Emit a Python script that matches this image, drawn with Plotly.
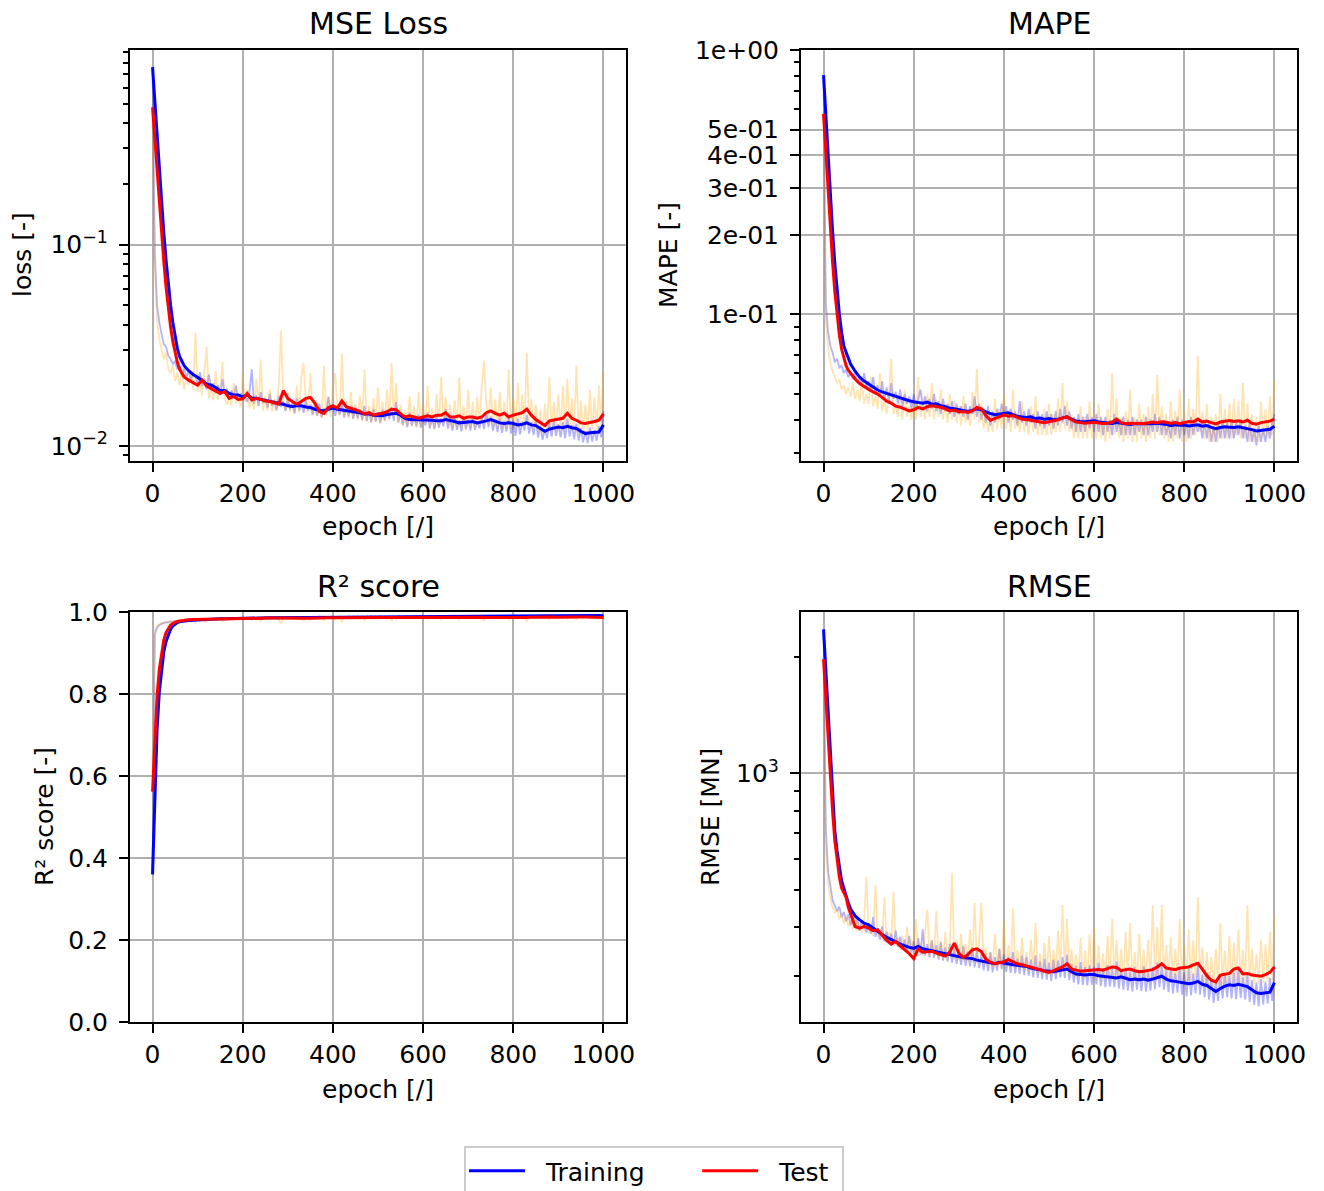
import plotly.graph_objects as go

# ---------------------------------------------------------------------------
# Training history: raw per-epoch metrics (every 5th epoch) and smoothed curves
# ---------------------------------------------------------------------------
epochs_raw = list(range(0, 1001, 5))
epochs_smooth = list(range(0, 60, 5)) + list(range(60, 1001, 10))

mse_train_raw = [
    0.760, 0.090, 0.050, 0.041, 0.036, 0.032, 0.031, 0.028, 0.027, 0.0255,
    0.0262, 0.0240, 0.0251, 0.0228, 0.0242, 0.0219, 0.0236, 0.0212, 0.0229, 0.0221,
    0.0205, 0.0232, 0.0198, 0.0215, 0.0190, 0.0226, 0.0194, 0.0205, 0.0182, 0.0200,
    0.0178, 0.0215, 0.0181, 0.0192, 0.0170, 0.0188, 0.0176, 0.0199, 0.0168, 0.0182,
    0.0172, 0.0180, 0.0165, 0.0186, 0.0240, 0.0162, 0.0178, 0.0158, 0.0185, 0.0163,
    0.0172, 0.0155, 0.0181, 0.0158, 0.0168, 0.0150, 0.0177, 0.0156, 0.0166, 0.0149,
    0.0170, 0.0152, 0.0163, 0.0145, 0.0172, 0.0150, 0.0160, 0.0146, 0.0169, 0.0149,
    0.0160, 0.0142, 0.0158, 0.0141, 0.0162, 0.0139, 0.0154, 0.0145, 0.0175, 0.0150,
    0.0161, 0.0141, 0.0157, 0.0143, 0.0163, 0.0138, 0.0154, 0.0140, 0.0158, 0.0136,
    0.0155, 0.0137, 0.0152, 0.0134, 0.0158, 0.0133, 0.0149, 0.0131, 0.0152, 0.0132,
    0.0147, 0.0130, 0.0151, 0.0134, 0.0149, 0.0136, 0.0156, 0.0133, 0.0165, 0.0131,
    0.0145, 0.0127, 0.0141, 0.0124, 0.0146, 0.0126, 0.0140, 0.0125, 0.0143, 0.0123,
    0.0139, 0.0126, 0.0146, 0.0122, 0.0138, 0.0121, 0.0142, 0.0123, 0.0137, 0.0125,
    0.0152, 0.0122, 0.0136, 0.0119, 0.0139, 0.0120, 0.0134, 0.0118, 0.0140, 0.0121,
    0.0135, 0.0119, 0.0141, 0.0120, 0.0133, 0.0122, 0.0139, 0.0121, 0.0147, 0.0124,
    0.0140, 0.0119, 0.0136, 0.0117, 0.0138, 0.0116, 0.0133, 0.0118, 0.0140, 0.0115,
    0.0134, 0.0112, 0.0137, 0.0114, 0.0132, 0.0119, 0.0143, 0.0115, 0.0131, 0.0113,
    0.0135, 0.0110, 0.0126, 0.0107, 0.0121, 0.0109, 0.0130, 0.0111, 0.0133, 0.0112,
    0.0128, 0.0110, 0.0131, 0.0109, 0.0136, 0.0111, 0.0127, 0.0108, 0.0129, 0.0106,
    0.0122, 0.0104, 0.0119, 0.0103, 0.0123, 0.0105, 0.0120, 0.0106, 0.0125, 0.0110,
    0.0148,
]
mse_test_raw = [
    0.480, 0.075, 0.042, 0.034, 0.030, 0.027, 0.029, 0.024, 0.023, 0.025,
    0.021, 0.023, 0.020, 0.024, 0.019, 0.022, 0.020, 0.023, 0.019, 0.0365,
    0.0185, 0.0210, 0.0178, 0.0240, 0.0310, 0.0172, 0.0196, 0.0168, 0.0235, 0.0170,
    0.0188, 0.0262, 0.0171, 0.0160, 0.0182, 0.0158, 0.0205, 0.0162, 0.0176, 0.0155,
    0.0230, 0.0165, 0.0190, 0.0154, 0.0172, 0.0152, 0.0215, 0.0157, 0.0268, 0.0150,
    0.0176, 0.0149, 0.0192, 0.0148, 0.0170, 0.0151, 0.0205, 0.0374, 0.0162, 0.0150,
    0.0185, 0.0147, 0.0168, 0.0145, 0.0198, 0.0146, 0.0220, 0.0258, 0.0160, 0.0148,
    0.0230, 0.0143, 0.0165, 0.0140, 0.0158, 0.0137, 0.0250, 0.0141, 0.0175, 0.0139,
    0.0195, 0.0230, 0.0150, 0.0142, 0.0288, 0.0140, 0.0168, 0.0137, 0.0185, 0.0136,
    0.0162, 0.0134, 0.0178, 0.0133, 0.0240, 0.0132, 0.0158, 0.0130, 0.0172, 0.0131,
    0.0195, 0.0129, 0.0166, 0.0132, 0.0190, 0.0134, 0.0257, 0.0137, 0.0205, 0.0130,
    0.0160, 0.0126, 0.0150, 0.0124, 0.0176, 0.0125, 0.0158, 0.0123, 0.0185, 0.0124,
    0.0162, 0.0127, 0.0198, 0.0123, 0.0155, 0.0122, 0.0180, 0.0126, 0.0220, 0.0128,
    0.0175, 0.0124, 0.0160, 0.0121, 0.0168, 0.0123, 0.0218, 0.0122, 0.0158, 0.0120,
    0.0190, 0.0123, 0.0165, 0.0122, 0.0175, 0.0124, 0.0200, 0.0265, 0.0160, 0.0128,
    0.0195, 0.0126, 0.0170, 0.0122, 0.0185, 0.0121, 0.0165, 0.0123, 0.0240, 0.0122,
    0.0172, 0.0120, 0.0205, 0.0124, 0.0180, 0.0127, 0.0290, 0.0130, 0.0170, 0.0121,
    0.0160, 0.0118, 0.0150, 0.0115, 0.0162, 0.0117, 0.0220, 0.0119, 0.0165, 0.0118,
    0.0180, 0.0121, 0.0198, 0.0123, 0.0215, 0.0122, 0.0172, 0.0118, 0.0250, 0.0116,
    0.0168, 0.0115, 0.0160, 0.0117, 0.0190, 0.0118, 0.0175, 0.0120, 0.0200, 0.0123,
    0.0234,
]
mse_train_smooth = [
    0.760, 0.510, 0.343, 0.233, 0.161, 0.114, 0.0835, 0.0633, 0.0499, 0.0410,
    0.0350, 0.0305, 0.0278, 0.0250, 0.0236, 0.0226, 0.0219, 0.0210, 0.0203, 0.0200,
    0.0195, 0.0188, 0.0188, 0.0182, 0.0179, 0.0179, 0.0175, 0.0179, 0.0173, 0.0172,
    0.0170, 0.0169, 0.0167, 0.0164, 0.0163, 0.0161, 0.0158, 0.0157, 0.0158, 0.0158,
    0.0156, 0.0155, 0.0152, 0.0151, 0.0149, 0.0152, 0.0154, 0.0152, 0.0151, 0.0149,
    0.0148, 0.0148, 0.0146, 0.0144, 0.0144, 0.0142, 0.0142, 0.0141, 0.0143, 0.0144,
    0.0145, 0.0142, 0.0137, 0.0135, 0.0135, 0.0134, 0.0134, 0.0135, 0.0134, 0.0133,
    0.0133, 0.0135, 0.0134, 0.0132, 0.0130, 0.0131, 0.0131, 0.0132, 0.0130, 0.0131,
    0.0133, 0.0135, 0.0132, 0.0130, 0.0129, 0.0130, 0.0129, 0.0127, 0.0128, 0.0130,
    0.0127, 0.0126, 0.0122, 0.0118, 0.0121, 0.0123, 0.0124, 0.0123, 0.0125, 0.0123,
    0.0122, 0.0118, 0.0115, 0.0116, 0.0116, 0.0117, 0.0127,
]
mse_test_smooth = [
    0.480, 0.335, 0.229, 0.160, 0.113, 0.0820, 0.0615, 0.0480, 0.0390, 0.0330,
    0.0288, 0.0260, 0.0240, 0.0220, 0.0212, 0.0206, 0.0200, 0.0212, 0.0198, 0.0192,
    0.0186, 0.0182, 0.0186, 0.0172, 0.0176, 0.0170, 0.0171, 0.0182, 0.0169, 0.0172,
    0.0170, 0.0167, 0.0166, 0.0164, 0.0161, 0.0188, 0.0172, 0.0166, 0.0161, 0.0166,
    0.0172, 0.0174, 0.0163, 0.0148, 0.0145, 0.0155, 0.0158, 0.0154, 0.0167, 0.0156,
    0.0154, 0.0151, 0.0148, 0.0144, 0.0146, 0.0142, 0.0144, 0.0145, 0.0148, 0.0152,
    0.0151, 0.0144, 0.0139, 0.0141, 0.0139, 0.0137, 0.0139, 0.0141, 0.0139, 0.0142,
    0.0142, 0.0146, 0.0139, 0.0139, 0.0141, 0.0137, 0.0139, 0.0139, 0.0137, 0.0139,
    0.0146, 0.0149, 0.0145, 0.0142, 0.0145, 0.0139, 0.0142, 0.0144, 0.0146, 0.0152,
    0.0142, 0.0135, 0.0130, 0.0126, 0.0133, 0.0134, 0.0135, 0.0137, 0.0145, 0.0137,
    0.0134, 0.0130, 0.0129, 0.0130, 0.0132, 0.0134, 0.0144,
]

mape_train_raw = [
    0.804, 0.110, 0.086, 0.076, 0.072, 0.066, 0.068, 0.063, 0.064, 0.060,
    0.062, 0.058, 0.060, 0.057, 0.061, 0.055, 0.058, 0.054, 0.060, 0.053,
    0.056, 0.051, 0.058, 0.050, 0.054, 0.049, 0.056, 0.048, 0.053, 0.047,
    0.055, 0.048, 0.051, 0.046, 0.052, 0.045, 0.050, 0.046, 0.049, 0.044,
    0.050, 0.044, 0.048, 0.052, 0.045, 0.049, 0.043, 0.048, 0.044, 0.050,
    0.043, 0.047, 0.042, 0.048, 0.043, 0.046, 0.042, 0.047, 0.041, 0.046,
    0.042, 0.045, 0.041, 0.046, 0.040, 0.045, 0.042, 0.049, 0.041, 0.046,
    0.040, 0.044, 0.039, 0.045, 0.038, 0.043, 0.039, 0.044, 0.040, 0.046,
    0.041, 0.045, 0.039, 0.044, 0.040, 0.043, 0.038, 0.047, 0.039, 0.043,
    0.038, 0.044, 0.039, 0.042, 0.037, 0.043, 0.038, 0.042, 0.037, 0.043,
    0.038, 0.042, 0.037, 0.043, 0.038, 0.044, 0.039, 0.045, 0.038, 0.043,
    0.037, 0.041, 0.036, 0.042, 0.036, 0.041, 0.036, 0.042, 0.037, 0.041,
    0.036, 0.042, 0.036, 0.041, 0.035, 0.041, 0.036, 0.040, 0.035, 0.042,
    0.036, 0.040, 0.035, 0.041, 0.035, 0.040, 0.035, 0.041, 0.035, 0.040,
    0.036, 0.040, 0.035, 0.041, 0.035, 0.040, 0.036, 0.042, 0.036, 0.041,
    0.035, 0.040, 0.035, 0.039, 0.034, 0.040, 0.035, 0.041, 0.034, 0.040,
    0.035, 0.039, 0.034, 0.041, 0.035, 0.040, 0.036, 0.039, 0.034, 0.040,
    0.034, 0.039, 0.033, 0.038, 0.033, 0.039, 0.034, 0.040, 0.034, 0.039,
    0.034, 0.040, 0.034, 0.039, 0.035, 0.040, 0.034, 0.038, 0.033, 0.039,
    0.033, 0.037, 0.032, 0.038, 0.033, 0.037, 0.033, 0.038, 0.034, 0.039,
    0.042,
]
mape_test_raw = [
    0.573, 0.095, 0.075, 0.066, 0.061, 0.058, 0.055, 0.057, 0.052, 0.054,
    0.050, 0.053, 0.049, 0.055, 0.048, 0.052, 0.047, 0.056, 0.046, 0.050,
    0.046, 0.058, 0.045, 0.049, 0.044, 0.060, 0.043, 0.047, 0.042, 0.050,
    0.068, 0.042, 0.046, 0.041, 0.048, 0.040, 0.052, 0.041, 0.045, 0.040,
    0.047, 0.040, 0.058, 0.041, 0.046, 0.040, 0.050, 0.041, 0.055, 0.040,
    0.048, 0.041, 0.052, 0.040, 0.046, 0.039, 0.050, 0.040, 0.047, 0.039,
    0.045, 0.038, 0.049, 0.039, 0.044, 0.038, 0.051, 0.040, 0.062, 0.039,
    0.046, 0.037, 0.043, 0.036, 0.041, 0.036, 0.048, 0.037, 0.044, 0.037,
    0.050, 0.037, 0.043, 0.036, 0.052, 0.037, 0.042, 0.036, 0.047, 0.036,
    0.041, 0.035, 0.045, 0.036, 0.049, 0.035, 0.041, 0.035, 0.044, 0.035,
    0.046, 0.035, 0.042, 0.036, 0.048, 0.036, 0.055, 0.037, 0.047, 0.036,
    0.042, 0.034, 0.040, 0.034, 0.045, 0.034, 0.041, 0.034, 0.047, 0.034,
    0.042, 0.034, 0.046, 0.034, 0.040, 0.033, 0.044, 0.034, 0.060, 0.035,
    0.048, 0.034, 0.041, 0.033, 0.043, 0.034, 0.052, 0.033, 0.041, 0.033,
    0.046, 0.034, 0.042, 0.033, 0.045, 0.034, 0.050, 0.034, 0.059, 0.035,
    0.045, 0.034, 0.042, 0.033, 0.047, 0.033, 0.043, 0.034, 0.052, 0.033,
    0.043, 0.033, 0.048, 0.034, 0.044, 0.035, 0.070, 0.036, 0.043, 0.034,
    0.046, 0.033, 0.041, 0.033, 0.042, 0.033, 0.050, 0.034, 0.044, 0.034,
    0.046, 0.034, 0.048, 0.035, 0.047, 0.034, 0.055, 0.034, 0.046, 0.033,
    0.042, 0.033, 0.041, 0.033, 0.047, 0.034, 0.044, 0.034, 0.049, 0.035,
    0.056,
]
mape_train_smooth = [
    0.804, 0.563, 0.395, 0.282, 0.207, 0.156, 0.123, 0.1007, 0.0857, 0.0760,
    0.0720, 0.0680, 0.0650, 0.0610, 0.0580, 0.0560, 0.0545, 0.0530, 0.0518, 0.0510,
    0.0503, 0.0497, 0.0490, 0.0483, 0.0477, 0.0472, 0.0468, 0.0465, 0.0462, 0.0466,
    0.0458, 0.0460, 0.0452, 0.0448, 0.0442, 0.0440, 0.0436, 0.0433, 0.0430, 0.0434,
    0.0440, 0.0436, 0.0428, 0.0422, 0.0418, 0.0420, 0.0424, 0.0425, 0.0418, 0.0412,
    0.0410, 0.0408, 0.0410, 0.0404, 0.0406, 0.0402, 0.0404, 0.0400, 0.0402, 0.0405,
    0.0410, 0.0402, 0.0396, 0.0394, 0.0393, 0.0395, 0.0396, 0.0392, 0.0390, 0.0389,
    0.0387, 0.0390, 0.0388, 0.0385, 0.0384, 0.0386, 0.0386, 0.0385, 0.0384, 0.0386,
    0.0388, 0.0387, 0.0384, 0.0380, 0.0383, 0.0381, 0.0382, 0.0379, 0.0381, 0.0383,
    0.0378, 0.0380, 0.0374, 0.0370, 0.0374, 0.0376, 0.0375, 0.0374, 0.0376, 0.0373,
    0.0372, 0.0367, 0.0363, 0.0364, 0.0366, 0.0368, 0.0378,
]
mape_test_smooth = [
    0.573, 0.410, 0.290, 0.210, 0.158, 0.122, 0.099, 0.084, 0.074, 0.068,
    0.0640, 0.0615, 0.0598, 0.0570, 0.0548, 0.0533, 0.0521, 0.0510, 0.0500, 0.0486,
    0.0470, 0.0462, 0.0450, 0.0446, 0.0440, 0.0432, 0.0436, 0.0445, 0.0440, 0.0448,
    0.0452, 0.0450, 0.0446, 0.0440, 0.0432, 0.0435, 0.0428, 0.0430, 0.0426, 0.0432,
    0.0445, 0.0440, 0.0415, 0.0398, 0.0405, 0.0410, 0.0417, 0.0412, 0.0415, 0.0408,
    0.0402, 0.0401, 0.0398, 0.0394, 0.0392, 0.0390, 0.0393, 0.0396, 0.0400, 0.0406,
    0.0410, 0.0400, 0.0392, 0.0390, 0.0388, 0.0390, 0.0391, 0.0389, 0.0387, 0.0388,
    0.0392, 0.0402, 0.0390, 0.0386, 0.0388, 0.0387, 0.0388, 0.0386, 0.0389, 0.0392,
    0.0390, 0.0393, 0.0391, 0.0388, 0.0390, 0.0386, 0.0390, 0.0394, 0.0392, 0.0402,
    0.0392, 0.0395, 0.0390, 0.0386, 0.0392, 0.0395, 0.0397, 0.0394, 0.0396, 0.0392,
    0.0398, 0.0388, 0.0385, 0.0390, 0.0392, 0.0395, 0.0402,
]

r2_train_raw = [
    0.360, 0.945, 0.962, 0.968, 0.971, 0.973, 0.975, 0.974, 0.977, 0.976,
    0.978, 0.977, 0.979, 0.978, 0.980, 0.979, 0.981, 0.979, 0.981, 0.980,
    0.981, 0.980, 0.982, 0.980, 0.983, 0.981, 0.983, 0.982, 0.984, 0.982,
    0.984, 0.982, 0.985, 0.983, 0.985, 0.983, 0.986, 0.984, 0.985, 0.984,
    0.986, 0.984, 0.986, 0.985, 0.982, 0.986, 0.985, 0.987, 0.985, 0.986,
    0.987, 0.985, 0.987, 0.985, 0.987, 0.986, 0.987, 0.986, 0.988, 0.986,
    0.987, 0.986, 0.988, 0.986, 0.987, 0.986, 0.988, 0.987, 0.988, 0.986,
    0.988, 0.987, 0.988, 0.987, 0.989, 0.987, 0.988, 0.987, 0.986, 0.988,
    0.987, 0.988, 0.987, 0.989, 0.987, 0.988, 0.987, 0.989, 0.988, 0.989,
    0.988, 0.989, 0.988, 0.989, 0.987, 0.989, 0.988, 0.990, 0.988, 0.989,
    0.988, 0.990, 0.988, 0.989, 0.988, 0.989, 0.988, 0.989, 0.987, 0.990,
    0.988, 0.990, 0.989, 0.990, 0.988, 0.990, 0.989, 0.990, 0.989, 0.990,
    0.989, 0.990, 0.988, 0.990, 0.989, 0.990, 0.989, 0.990, 0.989, 0.990,
    0.988, 0.990, 0.989, 0.991, 0.989, 0.990, 0.989, 0.991, 0.989, 0.990,
    0.989, 0.991, 0.989, 0.990, 0.989, 0.991, 0.989, 0.990, 0.988, 0.990,
    0.989, 0.991, 0.989, 0.991, 0.989, 0.991, 0.990, 0.991, 0.989, 0.991,
    0.990, 0.991, 0.989, 0.991, 0.990, 0.991, 0.989, 0.991, 0.990, 0.991,
    0.990, 0.992, 0.990, 0.992, 0.991, 0.992, 0.990, 0.991, 0.990, 0.991,
    0.990, 0.991, 0.990, 0.992, 0.989, 0.991, 0.990, 0.992, 0.990, 0.992,
    0.991, 0.992, 0.991, 0.992, 0.990, 0.992, 0.991, 0.992, 0.990, 0.991,
    0.989,
]
r2_test_raw = [
    0.562, 0.955, 0.966, 0.970, 0.973, 0.975, 0.974, 0.977, 0.976, 0.978,
    0.977, 0.979, 0.978, 0.980, 0.979, 0.981, 0.980, 0.981, 0.980, 0.974,
    0.982, 0.980, 0.982, 0.979, 0.976, 0.983, 0.981, 0.984, 0.979, 0.983,
    0.982, 0.977, 0.984, 0.985, 0.982, 0.985, 0.981, 0.985, 0.983, 0.986,
    0.980, 0.985, 0.983, 0.986, 0.984, 0.986, 0.981, 0.986, 0.978, 0.987,
    0.984, 0.987, 0.983, 0.987, 0.985, 0.987, 0.982, 0.972, 0.986, 0.987,
    0.984, 0.988, 0.985, 0.988, 0.983, 0.988, 0.982, 0.979, 0.986, 0.988,
    0.981, 0.988, 0.986, 0.988, 0.986, 0.989, 0.980, 0.988, 0.985, 0.989,
    0.983, 0.981, 0.987, 0.988, 0.976, 0.989, 0.986, 0.989, 0.984, 0.989,
    0.986, 0.989, 0.985, 0.989, 0.981, 0.989, 0.987, 0.990, 0.985, 0.989,
    0.984, 0.990, 0.986, 0.989, 0.984, 0.989, 0.979, 0.989, 0.983, 0.990,
    0.986, 0.990, 0.987, 0.990, 0.985, 0.990, 0.987, 0.990, 0.984, 0.990,
    0.986, 0.990, 0.984, 0.990, 0.987, 0.990, 0.985, 0.990, 0.982, 0.990,
    0.985, 0.990, 0.986, 0.990, 0.986, 0.990, 0.982, 0.990, 0.987, 0.991,
    0.985, 0.990, 0.986, 0.990, 0.986, 0.990, 0.984, 0.979, 0.987, 0.990,
    0.985, 0.990, 0.986, 0.991, 0.985, 0.991, 0.987, 0.990, 0.982, 0.991,
    0.986, 0.991, 0.984, 0.991, 0.985, 0.990, 0.977, 0.990, 0.986, 0.991,
    0.987, 0.991, 0.988, 0.991, 0.987, 0.991, 0.983, 0.991, 0.987, 0.991,
    0.986, 0.991, 0.985, 0.991, 0.984, 0.991, 0.987, 0.991, 0.981, 0.991,
    0.987, 0.991, 0.987, 0.991, 0.985, 0.991, 0.986, 0.991, 0.984, 0.990,
    0.982,
]
r2_train_smooth = [
    0.360, 0.570, 0.712, 0.805, 0.862, 0.903, 0.928, 0.946, 0.958, 0.966,
    0.971, 0.974, 0.976, 0.978, 0.979, 0.980, 0.9808, 0.9815, 0.9820, 0.9825,
    0.9830, 0.9834, 0.9836, 0.9840, 0.9843, 0.9845, 0.9848, 0.9846, 0.9850, 0.9852,
    0.9854, 0.9855, 0.9857, 0.9859, 0.9860, 0.9862, 0.9864, 0.9865, 0.9865, 0.9866,
    0.9868, 0.9869, 0.9871, 0.9872, 0.9874, 0.9872, 0.9871, 0.9873, 0.9874, 0.9876,
    0.9877, 0.9877, 0.9879, 0.9880, 0.9881, 0.9882, 0.9883, 0.9884, 0.9883, 0.9882,
    0.9881, 0.9884, 0.9887, 0.9888, 0.9889, 0.9889, 0.9890, 0.9890, 0.9891, 0.9892,
    0.9893, 0.9892, 0.9893, 0.9895, 0.9896, 0.9896, 0.9897, 0.9897, 0.9898, 0.9898,
    0.9897, 0.9896, 0.9899, 0.9901, 0.9902, 0.9902, 0.9903, 0.9905, 0.9905, 0.9903,
    0.9906, 0.9907, 0.9911, 0.9914, 0.9911, 0.9910, 0.9909, 0.9910, 0.9909, 0.9910,
    0.9911, 0.9914, 0.9917, 0.9917, 0.9916, 0.9915, 0.9908,
]
r2_test_smooth = [
    0.562, 0.700, 0.795, 0.860, 0.903, 0.932, 0.950, 0.961, 0.968, 0.972,
    0.975, 0.977, 0.978, 0.980, 0.981, 0.9815, 0.9818, 0.9812, 0.9820, 0.9826,
    0.9831, 0.9834, 0.9830, 0.9842, 0.9840, 0.9844, 0.9843, 0.9838, 0.9848, 0.9846,
    0.9848, 0.9850, 0.9851, 0.9852, 0.9854, 0.9838, 0.9850, 0.9854, 0.9857, 0.9854,
    0.9850, 0.9849, 0.9856, 0.9866, 0.9868, 0.9862, 0.9860, 0.9862, 0.9854, 0.9861,
    0.9862, 0.9864, 0.9866, 0.9869, 0.9868, 0.9870, 0.9869, 0.9868, 0.9866, 0.9863,
    0.9864, 0.9869, 0.9872, 0.9871, 0.9872, 0.9874, 0.9872, 0.9871, 0.9872, 0.9870,
    0.9870, 0.9867, 0.9872, 0.9872, 0.9871, 0.9874, 0.9872, 0.9872, 0.9874, 0.9872,
    0.9867, 0.9865, 0.9868, 0.9870, 0.9868, 0.9872, 0.9870, 0.9869, 0.9867, 0.9863,
    0.9870, 0.9875, 0.9879, 0.9882, 0.9877, 0.9876, 0.9875, 0.9873, 0.9867, 0.9873,
    0.9875, 0.9878, 0.9879, 0.9878, 0.9877, 0.9875, 0.9868,
]

rmse_train_raw = [
    2355, 720, 560, 505, 470, 455, 440, 452, 425, 438,
    415, 432, 405, 425, 398, 420, 392, 415, 400, 388,
    410, 385, 425, 378, 398, 372, 402, 368, 390, 365,
    385, 360, 392, 356, 378, 350, 372, 348, 380, 345,
    368, 342, 375, 340, 395, 338, 362, 335, 370, 334,
    360, 330, 366, 328, 355, 326, 362, 324, 352, 322,
    350, 320, 358, 318, 346, 317, 355, 315, 348, 314,
    342, 310, 338, 308, 345, 306, 335, 309, 352, 312,
    340, 307, 336, 305, 345, 304, 332, 303, 338, 301,
    335, 300, 330, 297, 338, 296, 326, 294, 332, 293,
    324, 291, 330, 294, 328, 297, 335, 296, 340, 292,
    322, 288, 318, 285, 325, 284, 316, 283, 320, 284,
    316, 285, 324, 282, 314, 280, 320, 281, 312, 280,
    326, 278, 312, 276, 315, 275, 308, 273, 316, 276,
    308, 274, 318, 273, 306, 275, 316, 277, 325, 280,
    318, 276, 310, 272, 314, 270, 305, 271, 315, 268,
    306, 265, 312, 267, 304, 270, 318, 268, 302, 264,
    305, 260, 295, 255, 290, 258, 302, 262, 305, 264,
    300, 262, 306, 261, 310, 263, 298, 260, 302, 257,
    292, 252, 288, 250, 294, 253, 289, 254, 296, 258,
    318,
]
rmse_test_raw = [
    1971, 640, 520, 475, 450, 435, 445, 420, 432, 410,
    425, 402, 418, 395, 430, 390, 412, 388, 420, 541,
    385, 400, 380, 515, 378, 395, 370, 480, 365, 388,
    362, 495, 358, 375, 352, 380, 348, 400, 345, 372,
    342, 420, 340, 365, 338, 380, 444, 336, 372, 335,
    440, 333, 368, 330, 390, 329, 360, 553, 330, 372,
    328, 385, 326, 362, 325, 395, 324, 462, 326, 372,
    463, 322, 355, 318, 345, 316, 385, 315, 352, 313,
    420, 314, 360, 313, 448, 312, 350, 310, 375, 309,
    345, 307, 372, 306, 410, 305, 342, 303, 365, 302,
    380, 301, 350, 303, 392, 305, 457, 308, 420, 302,
    352, 298, 340, 296, 375, 295, 348, 294, 385, 295,
    400, 296, 360, 294, 342, 293, 380, 295, 420, 297,
    370, 294, 352, 292, 390, 293, 410, 291, 345, 290,
    385, 292, 350, 291, 372, 293, 456, 294, 400, 296,
    457, 295, 360, 292, 378, 291, 352, 293, 420, 292,
    360, 290, 395, 292, 370, 296, 479, 298, 355, 290,
    345, 284, 335, 280, 352, 283, 410, 285, 348, 286,
    380, 288, 365, 290, 395, 289, 350, 288, 456, 287,
    352, 285, 340, 286, 372, 287, 362, 289, 390, 291,
    431,
]
rmse_train_smooth = [
    2355, 1850, 1450, 1120, 870, 710, 630, 570, 528, 505,
    480, 462, 446, 428, 418, 410, 406, 398, 390, 383,
    377, 371, 367, 362, 358, 355, 353, 357, 352, 350,
    347, 346, 344, 342, 340, 338, 336, 334, 333, 332,
    329, 327, 325, 324, 322, 325, 323, 322, 320, 319,
    318, 317, 314, 312, 311, 309, 308, 307, 309, 311,
    312, 307, 303, 302, 301, 302, 302, 300, 299, 298,
    297, 296, 298, 295, 293, 294, 293, 294, 292, 294,
    297, 299, 294, 291, 290, 289, 288, 286, 287, 290,
    285, 283, 278, 273, 278, 282, 284, 283, 285, 283,
    281, 276, 271, 270, 271, 272, 288,
]
rmse_test_smooth = [
    1971, 1560, 1230, 980, 800, 670, 590, 540, 505, 490,
    478, 450, 432, 402, 398, 402, 398, 392, 394, 382,
    370, 362, 368, 358, 350, 342, 332, 352, 345, 346,
    347, 343, 340, 337, 345, 364, 343, 334, 340, 350,
    352, 346, 331, 325, 322, 324, 326, 330, 326, 322,
    320, 318, 316, 314, 311, 308, 306, 309, 312, 316,
    322, 312, 310, 308, 309, 310, 310, 311, 310, 313,
    316, 315, 309, 311, 312, 309, 307, 308, 309, 311,
    316, 322, 314, 312, 311, 314, 315, 316, 320, 323,
    312, 300, 292, 289, 301, 303, 304, 312, 314, 303,
    304, 301, 300, 299, 302, 306, 316,
]

for name, arr, ref in [
    ("mse_train_raw", mse_train_raw, epochs_raw), ("mse_test_raw", mse_test_raw, epochs_raw),
    ("mse_train_smooth", mse_train_smooth, epochs_smooth), ("mse_test_smooth", mse_test_smooth, epochs_smooth),
    ("mape_train_raw", mape_train_raw, epochs_raw), ("mape_test_raw", mape_test_raw, epochs_raw),
    ("mape_train_smooth", mape_train_smooth, epochs_smooth), ("mape_test_smooth", mape_test_smooth, epochs_smooth),
    ("r2_train_raw", r2_train_raw, epochs_raw), ("r2_test_raw", r2_test_raw, epochs_raw),
    ("r2_train_smooth", r2_train_smooth, epochs_smooth), ("r2_test_smooth", r2_test_smooth, epochs_smooth),
    ("rmse_train_raw", rmse_train_raw, epochs_raw), ("rmse_test_raw", rmse_test_raw, epochs_raw),
    ("rmse_train_smooth", rmse_train_smooth, epochs_smooth), ("rmse_test_smooth", rmse_test_smooth, epochs_smooth),
]:
    assert len(arr) == len(ref), (name, len(arr), len(ref))

# ---------------------------------------------------------------------------
# Figure
# ---------------------------------------------------------------------------
W, H = 1324, 1191
FONT = "DejaVu Sans"
TRAIN_RAW = "rgba(0,0,255,0.3)"
TEST_RAW = "rgba(255,165,0,0.3)"
NBSP = "\u00a0"

panels = [
    # (x axis, y axis, train_raw, test_raw, train_smooth, test_smooth)
    ("x", "y", mse_train_raw, mse_test_raw, mse_train_smooth, mse_test_smooth),
    ("x2", "y2", mape_train_raw, mape_test_raw, mape_train_smooth, mape_test_smooth),
    ("x3", "y3", r2_train_raw, r2_test_raw, r2_train_smooth, r2_test_smooth),
    ("x4", "y4", rmse_train_raw, rmse_test_raw, rmse_train_smooth, rmse_test_smooth),
]

fig = go.Figure()
for i, (xa, ya, tr_raw, te_raw, tr_sm, te_sm) in enumerate(panels):
    fig.add_trace(go.Scatter(x=epochs_raw, y=tr_raw, xaxis=xa, yaxis=ya, mode="lines",
                             line=dict(color=TRAIN_RAW, width=1.8), showlegend=False, hoverinfo="skip"))
    fig.add_trace(go.Scatter(x=epochs_raw, y=te_raw, xaxis=xa, yaxis=ya, mode="lines",
                             line=dict(color=TEST_RAW, width=1.8), showlegend=False, hoverinfo="skip"))
    fig.add_trace(go.Scatter(x=epochs_smooth, y=tr_sm, xaxis=xa, yaxis=ya, mode="lines",
                             line=dict(color="blue", width=3),
                             name=NBSP * 2 + "Training" + NBSP * 6,
                             showlegend=(i == 0), legendgroup="train"))
    fig.add_trace(go.Scatter(x=epochs_smooth, y=te_sm, xaxis=xa, yaxis=ya, mode="lines",
                             line=dict(color="red", width=3), name=NBSP * 2 + "Test" + NBSP,
                             showlegend=(i == 0), legendgroup="test"))

# panel placement in pixels (left, right, top, bottom)
boxes = {
    1: (130, 626, 50, 461),
    2: (801, 1297, 50, 461),
    3: (130, 626, 612, 1022),
    4: (801, 1297, 612, 1022),
}

common_axis = dict(
    showline=True, linewidth=2, linecolor="black", mirror=True,
    ticks="outside", ticklen=9, tickwidth=2, tickcolor="black",
    showgrid=True, gridcolor="#b0b0b0", gridwidth=2, zeroline=False,
    automargin=False,
    tickfont=dict(family=FONT, size=25, color="black"),
)
minor_common = dict(ticks="outside", ticklen=5, tickwidth=1.5, tickcolor="black", showgrid=False)

layout_axes = {}
for k, (l, r, t, b) in boxes.items():
    sx = "" if k == 1 else str(k)
    layout_axes["xaxis" + sx] = dict(
        common_axis, domain=[l / W, r / W], anchor="y" + sx,
        range=[-50, 1050], tickmode="array", tickvals=[0, 200, 400, 600, 800, 1000],
        ticktext=["0", "200", "400", "600", "800", "1000"],
    )
    layout_axes["yaxis" + sx] = dict(common_axis, domain=[1 - b / H, 1 - t / H], anchor="x" + sx,
                                     ticklabelstandoff=6)

# MSE loss (log)
layout_axes["yaxis"].update(
    type="log", range=[-2.0755, -0.0338], tickmode="array",
    tickvals=[0.01, 0.1], ticktext=["10<sup>−2</sup>", "10<sup>−1</sup>"],
    minor=dict(minor_common, tickmode="array",
               tickvals=[0.009, 0.02, 0.03, 0.04, 0.05, 0.06, 0.07, 0.08, 0.09,
                         0.2, 0.3, 0.4, 0.5, 0.6, 0.7, 0.8, 0.9]),
)
# MAPE (log)
layout_axes["yaxis2"].update(
    type="log", range=[-1.554, 0], tickmode="array",
    tickvals=[0.1, 0.2, 0.3, 0.4, 0.5, 1.0],
    ticktext=["1e-01", "2e-01", "3e-01", "4e-01", "5e-01", "1e+00"],
    minor=dict(minor_common, tickmode="array",
               tickvals=[0.03, 0.04, 0.05, 0.06, 0.07, 0.08, 0.09, 0.6, 0.7, 0.8, 0.9]),
)
# R2 score (linear)
layout_axes["yaxis3"].update(
    range=[0, 1], tickmode="array", tickvals=[0, 0.2, 0.4, 0.6, 0.8, 1.0],
    ticktext=["0.0", "0.2", "0.4", "0.6", "0.8", "1.0"],
)
# RMSE (log)
layout_axes["yaxis4"].update(
    type="log", range=[2.3574, 3.4168], tickmode="array",
    tickvals=[1000], ticktext=["10<sup>3</sup>"],
    minor=dict(minor_common, tickmode="array",
               tickvals=[300, 400, 500, 600, 700, 800, 900, 2000]),
)

annotations = []


def text_at(txt, px, py, size=25, angle=0):
    annotations.append(dict(
        text=txt, x=px / W, y=1 - py / H, xref="paper", yref="paper",
        showarrow=False, xanchor="center", yanchor="middle", textangle=angle,
        font=dict(family=FONT, size=size, color="black"),
    ))


# subplot titles
text_at("MSE Loss", 378, 24, size=30)
text_at("MAPE", 1049, 24, size=30)
text_at("R² score", 378, 586, size=30)
text_at("RMSE", 1049, 586, size=30)
# axis titles
text_at("epoch [/]", 378, 527)
text_at("epoch [/]", 1049, 527)
text_at("epoch [/]", 378, 1089)
text_at("epoch [/]", 1049, 1089)
text_at("loss [-]", 22, 255, angle=-90)
text_at("MAPE [-]", 668, 255, angle=-90)
text_at("R² score [-]", 44, 817, angle=-90)
text_at("RMSE [MN]", 710, 817, angle=-90)

fig.update_layout(
    width=W, height=H, margin=dict(l=0, r=0, t=0, b=0, autoexpand=False),
    paper_bgcolor="white", plot_bgcolor="white",
    font=dict(family=FONT, size=25, color="black"),
    annotations=annotations,
    legend=dict(
        orientation="h", x=464 / W, xanchor="left", y=1 - 1146 / H, yanchor="top",
        bgcolor="white", bordercolor="#cccccc", borderwidth=2,
        font=dict(family=FONT, size=25, color="black"),
        itemwidth=56,
    ),
    **layout_axes,
)

fig.write_html("out.html")
